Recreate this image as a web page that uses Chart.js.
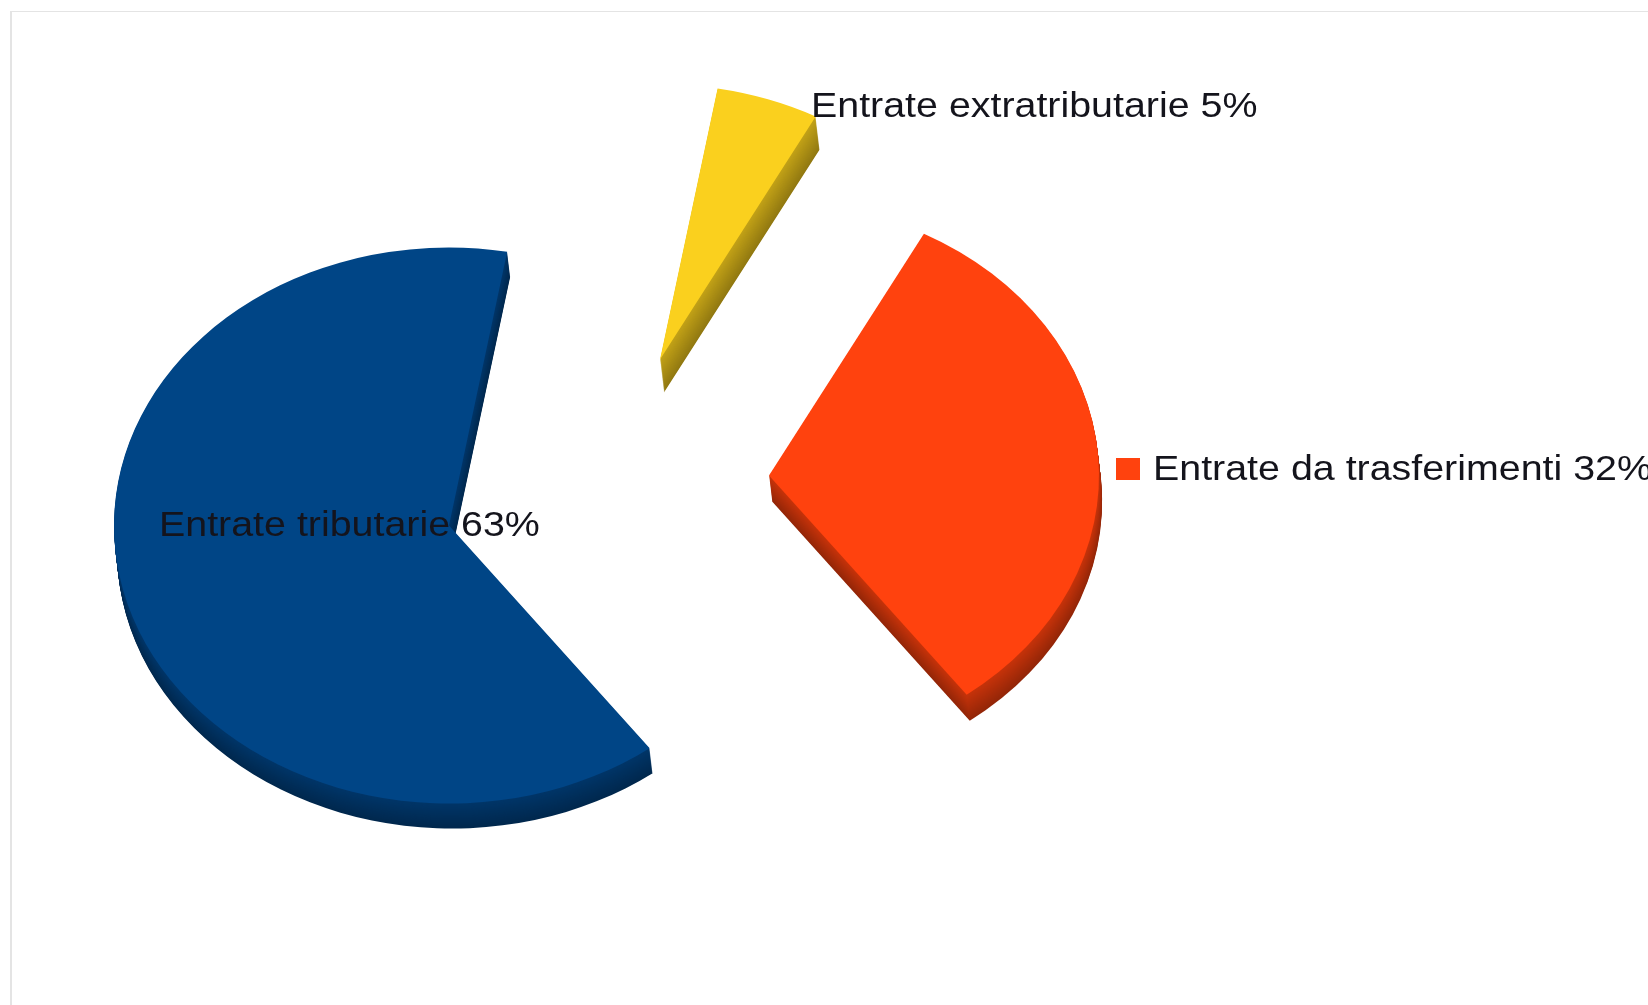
<!DOCTYPE html>
<html>
<head>
<meta charset="utf-8">
<title>Entrate</title>
<script src="https://cdn.jsdelivr.net/npm/chart.js@4/dist/chart.umd.min.js"></script>
<style>
  html, body { margin: 0; background: #fff; overflow: hidden; }
  #frame { position: absolute; left: 10px; top: 11px; width: 1700px; height: 1100px; border-left: 2px solid #e4e4e4; border-top: 1px solid #e4e4e4; }
  #chart { position: absolute; left: 0; top: 0; }
</style>
</head>
<body>
<div id="frame"></div>
<canvas id="chart" width="1648" height="1005"></canvas>
<script>
const categories = ['Entrate tributarie', 'Entrate extratributarie', 'Entrate da trasferimenti'];
const percentages = [63, 5, 32];
const colors = ['#004586', '#fad01e', '#ff420e'];

// how far each slice is pulled out of the pie, its size and visible thickness
const explodeX = [-375, -164, -55];
const explodeY = [23, -143, -27];
const sliceScale = [1, 0.99, 0.985];
const thickness = [25, 33, 26];
const squash = 0.83;

const labelX = [159, 811, 1153];
const labelY = [536, 117, 480];
const textStretch = 1.125;

const explodedPie = {
  id: 'explodedPie',
  beforeDatasetsDraw(chart) {
    const ctx = chart.ctx;
    chart.getDatasetMeta(0).data.forEach((arc, i) => {
      const place = (dx, dy) => {
        ctx.save();
        ctx.translate(arc.x + explodeX[i] + dx, arc.y + explodeY[i] + dy);
        ctx.scale(sliceScale[i], sliceScale[i] * squash);
        ctx.translate(-arc.x, -arc.y);
      };
      // side wall first, stacked copies of the slice going down
      for (let d = thickness[i]; d > 0; d--) {
        place(d * 0.12, d);
        ctx.filter = 'brightness(' + (0.58 + 0.2 * (1 - d / thickness[i])) + ')';
        arc.draw(ctx);
        ctx.restore();
      }
      place(0, 0);
      arc.draw(ctx);
      ctx.restore();
    });
    return false;
  },
  afterDraw(chart) {
    const ctx = chart.ctx;
    ctx.save();
    ctx.font = '35px "Liberation Sans"';
    ctx.fillStyle = '#14141c';
    ctx.textBaseline = 'alphabetic';
    categories.forEach((name, i) => {
      ctx.save();
      ctx.translate(labelX[i], labelY[i]);
      ctx.scale(textStretch, 1);
      ctx.fillText(name + ' ' + percentages[i] + '%', 0, 0);
      ctx.restore();
    });
    // legend key only next to the last label
    ctx.fillStyle = colors[2];
    ctx.fillRect(labelX[2] - 37, labelY[2] - 22, 24, 22);
    ctx.restore();
  }
};

new Chart(document.getElementById('chart'), {
  type: 'pie',
  data: {
    labels: categories,
    datasets: [{
      data: percentages,
      backgroundColor: colors,
      borderWidth: 0,
      radius: 335
    }]
  },
  options: {
    responsive: false,
    animation: false,
    rotation: 143.2,
    plugins: { legend: { display: false }, tooltip: { enabled: false } }
  },
  plugins: [explodedPie]
});
</script>
</body>
</html>
